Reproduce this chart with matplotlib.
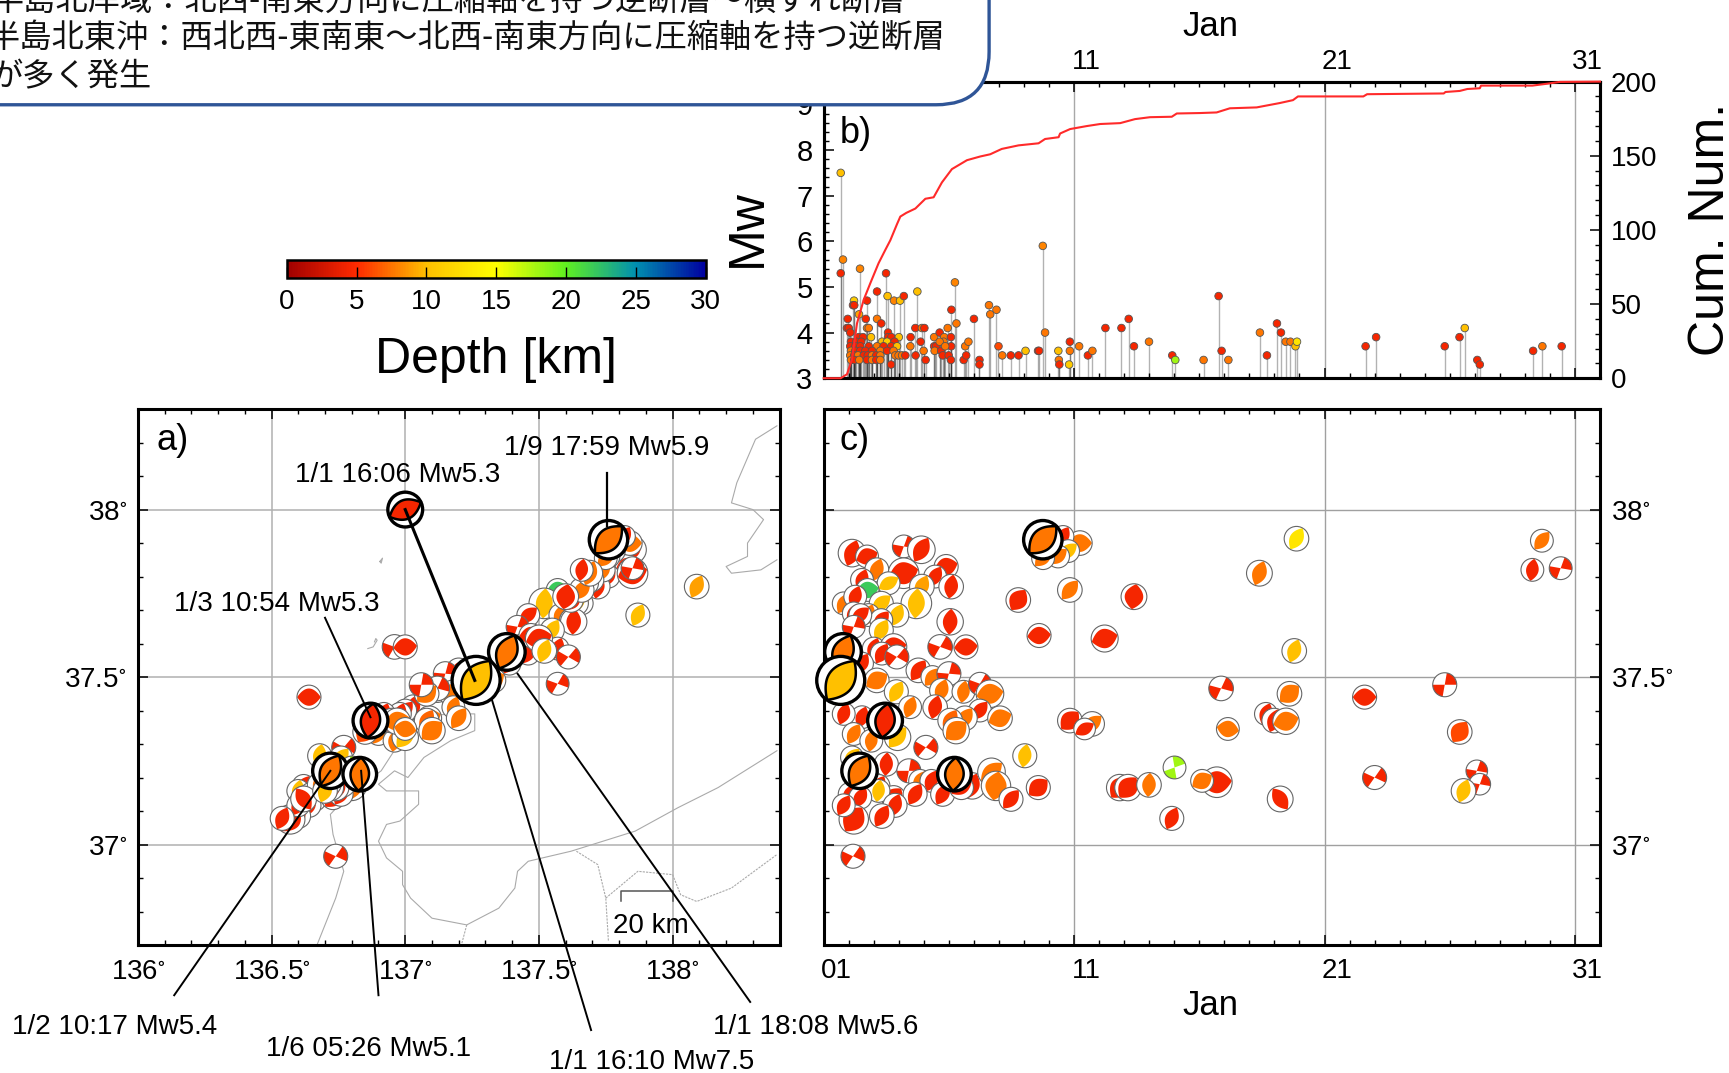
import numpy as np
import matplotlib
matplotlib.use('Agg')
import matplotlib.pyplot as plt
from matplotlib.cm import ScalarMappable
from matplotlib.colors import LinearSegmentedColormap, Normalize
from matplotlib.patches import Circle, Polygon, Wedge, FancyBboxPatch
from matplotlib.ticker import MultipleLocator
from matplotlib.transforms import IdentityTransform

plt.rcParams['font.family'] = ['Liberation Sans', 'Noto Sans CJK JP', 'DejaVu Sans']
plt.rcParams['mathtext.default'] = 'regular'

# panel b: time vs magnitude
b_day = [1.68, 1.77, 1.68, 2.45, 3.49, 3.13, 3.55, 3.81, 4.05, 4.20, 4.74, 6.24,
	2.21, 2.73, 2.17, 2.22, 2.41, 1.96, 2.68, 3.13, 3.30, 6.10, 6.30, 7.00, 7.60, 7.65, 7.90, 9.75, 9.84,
	7.98, 8.13, 8.47, 8.78, 9.06, 9.56, 9.60, 10.37, 10.39, 10.41, 10.80, 10.83, 10.83, 11.20, 11.55, 11.73,
	12.25, 12.89, 13.18, 13.39, 13.99, 14.92, 15.04, 16.17, 16.77, 16.89, 17.16,
	18.42, 18.70, 19.10, 19.26, 19.45, 19.64, 19.84, 19.90, 22.64, 23.06, 25.80, 26.39, 26.60, 27.10, 27.20,
	29.33, 29.70, 30.47,
	4.66, 4.92, 5.02, 4.47, 4.46, 4.67, 4.87, 4.99, 5.07, 5.41, 5.63, 5.95, 5.81, 6.08, 6.09, 5.41, 5.49,
	5.43, 5.79, 5.63, 5.69, 5.75, 5.99, 5.85, 6.08, 6.59, 6.69, 6.65, 6.78, 7.22, 7.22,
	1.93, 2.00, 2.73, 2.80, 2.06, 3.57, 2.40, 2.57, 2.89, 3.57, 3.70, 4.00,
	2.09, 2.30, 2.50, 3.33, 3.53, 3.83,
	2.06, 2.26, 2.46, 2.80, 3.13, 3.39, 3.70, 3.93,
	2.09, 2.26, 2.46, 2.66, 2.93, 3.26, 3.53, 3.79,
	2.06, 2.22, 2.37, 2.60, 2.76, 2.93, 3.10, 3.26, 3.86, 3.99, 4.13, 4.26,
	2.09, 2.22, 2.42, 2.73, 2.93, 3.10, 3.26, 3.69]
b_mw = [7.5, 5.6, 5.3, 5.4, 5.3, 4.9, 4.8, 4.7, 4.7, 4.8, 4.9, 5.1,
	4.7, 4.7, 4.6, 4.6, 4.4, 4.3, 4.3, 4.3, 4.2, 4.5, 4.2, 4.3, 4.6, 4.4, 4.5, 5.9, 4.0,
	3.7, 3.5, 3.5, 3.5, 3.6, 3.6, 3.6, 3.6, 3.4, 3.3, 3.3, 3.8, 3.6, 3.7, 3.5, 3.6,
	4.1, 4.1, 4.3, 3.7, 3.8, 3.5, 3.4, 3.4, 4.8, 3.6, 3.4,
	4.0, 3.5, 4.2, 4.0, 3.8, 3.8, 3.7, 3.8, 3.7, 3.9, 3.7, 3.9, 4.1, 3.4, 3.3,
	3.6, 3.7, 3.7,
	4.1, 4.1, 4.1, 3.9, 3.7, 3.5, 3.8, 3.6, 3.4, 3.9, 4.0, 4.1, 3.9, 3.9, 3.7, 3.7, 3.7,
	3.6, 3.8, 3.8, 3.6, 3.5, 3.5, 3.7, 3.4, 3.4, 3.5, 3.7, 3.8, 3.4, 3.3,
	4.1, 4.1, 4.1, 4.1, 4.0, 4.0, 3.9, 3.9, 3.9, 3.9, 3.9, 3.9,
	3.8, 3.8, 3.8, 3.8, 3.8, 3.8,
	3.7, 3.7, 3.7, 3.7, 3.7, 3.7, 3.7, 3.7,
	3.6, 3.6, 3.6, 3.6, 3.6, 3.6, 3.6, 3.6,
	3.5, 3.5, 3.5, 3.5, 3.5, 3.5, 3.5, 3.5, 3.5, 3.5, 3.5, 3.5,
	3.4, 3.4, 3.4, 3.4, 3.4, 3.4, 3.4, 3.3]
b_dep = [10, 8, 4.5, 8, 4.5, 4.5, 10, 8, 10, 4.5, 10, 8,
	11, 4.5, 4.5, 4.5, 9, 4.5, 4.5, 7.5, 4.5, 4.5, 7.5, 4.5, 7.5, 7.5, 7.5, 8, 7.5,
	6, 7.5, 4.5, 4.5, 10, 4.5, 4.5, 10, 7.5, 4.5, 11, 4.5, 7.5, 7.5, 4.5, 7.5,
	4.5, 4.5, 4.5, 4.5, 7.5, 4.5, 18, 7.5, 4.5, 4.5, 7.5,
	7.5, 4.5, 4.5, 4.5, 7.5, 7.5, 10, 13, 4.5, 4.5, 4.5, 4.5, 10, 4.5, 4.5,
	4.5, 7.5, 4.5,
	4.5, 7.5, 4.5, 4.5, 7.5, 4.5, 4.5, 7.5, 4.5, 7.5, 4.5, 7.5, 7.5, 4.5, 4.5, 4.5, 4.5,
	7.5, 7.5, 7.5, 4.5, 4.5, 4.5, 7.5, 4.5, 4.5, 4.5, 7.5, 7.5, 4.5, 4.5,
	4.5, 4.5, 7.5, 7.5, 4.5, 4.5, 4.5, 4.5, 10, 4.5, 4.5, 10,
	4.5, 4.5, 4.5, 10, 11, 4.5,
	4.5, 4.5, 4.5, 4.5, 7.5, 4.5, 4.5, 10,
	7.5, 4.5, 4.5, 4.5, 4.5, 7.5, 4.5, 7.5,
	7.5, 4.5, 7.5, 4.5, 4.5, 7.5, 4.5, 7.5, 7.5, 7.5, 7.5, 4.5,
	7.5, 4.5, 7.5, 4.5, 7.5, 4.5, 7.5, 4.5]

# cumulative number curve
cum_day = [1.0, 1.68, 1.93, 2.13, 2.33, 2.60, 2.86, 3.19, 3.46, 3.66, 3.93, 4.06, 4.30, 4.66, 5.06, 5.39, 5.72,
	6.12, 6.72, 7.25, 7.65, 8.11, 8.78, 9.58, 9.84, 10.38, 10.44, 10.84, 11.5, 12.04, 12.84, 13.43, 14.03,
	14.9, 15.1, 16.03, 16.69, 17.22, 18.29, 19.2, 19.74, 19.94, 22.55, 22.7, 25.76, 25.83, 26.4, 26.7, 27.2,
	27.25, 29.3, 29.9, 30.4, 32.0]
cum_num = [0, 0, 2.7, 12.7, 37, 53, 64, 77.5, 86.5, 93, 104, 109, 111.5, 114.4, 121, 122, 132,
	141, 147, 149.5, 151, 154.6, 157, 158.4, 161.3, 162.5, 165, 168, 170, 171.4, 172, 174.7, 176,
	176.3, 178.5, 178.8, 179.2, 182, 182.6, 185.5, 187.5, 190, 190, 191.5, 192, 193, 193.7, 195, 195.5,
	197.3, 197.3, 198.6, 199.8, 200]

# focal mechanisms in panels a and c
ball_day = [2.13, 2.73, 4.2, 4.9, 5.89, 5.45, 6.09, 3.12, 4.19, 2.53,
	3.59, 2.75, 1.8, 2.26, 3.3, 4.92, 4.7, 3.92, 2.2, 2.79,
	3.3, 2.46, 6.05, 5.65, 6.68, 2.2, 3.3, 3.0, 3.79, 3.32,
	2.53, 3.92, 3.12, 4.78, 5.34, 6.0, 3.9, 5.71, 6.58, 7.24,
	7.64, 4.45, 5.45, 7.24, 8.04, 6.64, 6.05, 6.29, 2.53, 1.8,
	2.2, 2.9, 3.95, 5.08, 2.13, 3.5, 4.4, 4.85, 5.3, 5.75,
	6.93, 6.5, 7.7, 7.88, 8.48, 9.03, 9.57, 3.19, 3.79, 4.65,
	3.19, 2.06, 2.46, 3.85, 3.32, 2.2, 1.8, 2.17, 8.77, 10.83,
	11.23, 10.56, 10.76, 10.36, 9.76, 13.39, 9.6, 12.22, 10.83, 11.72,
	11.42, 19.88, 18.4, 19.79, 16.87, 19.6, 18.66, 18.99, 19.46, 17.14,
	15.01, 16.7, 16.11, 12.82, 13.15, 13.99, 14.9, 19.23, 22.6, 25.8,
	26.4, 23.0, 27.08, 27.2, 26.55, 29.68, 29.3, 30.43]
ball_lon = [137.84, 137.78, 137.82, 137.85, 137.83, 137.76, 137.72, 137.74, 137.85, 137.7,
	137.68, 137.57, 137.66, 137.62, 137.64, 138.09, 137.52, 137.87, 137.6, 137.58,
	137.62, 137.46, 137.63, 136.96, 137.0, 137.42, 137.55, 137.57, 137.44, 137.46,
	137.39, 137.61, 137.33, 137.2, 137.17, 137.15, 137.25, 137.12, 137.08, 137.57,
	137.18, 137.18, 137.03, 137.0, 137.09, 137.2, 137.08, 137.1, 136.93, 136.98,
	136.9, 136.96, 137.0, 136.77, 136.76, 136.72, 136.7, 136.82, 136.79, 136.7,
	136.74, 136.78, 136.84, 136.8, 136.66, 136.68, 136.74, 136.62, 136.73, 136.76,
	136.6, 136.65, 136.62, 136.64, 136.6, 136.57, 136.6, 136.74, 137.62, 137.66,
	137.84, 137.82, 137.78, 137.76, 137.75, 137.6, 137.47, 137.5, 136.92, 136.86,
	136.85, 137.78, 137.69, 137.52, 137.12, 137.08, 136.92, 136.95, 136.97, 137.0,
	136.8, 136.76, 136.7, 136.74, 136.72, 136.68, 136.54, 136.62, 136.64, 137.06,
	136.85, 136.73, 136.73, 136.72, 136.7, 137.74, 137.66, 137.85]
ball_lat = [37.87, 37.86, 37.89, 37.88, 37.83, 37.80, 37.77, 37.82, 37.81, 37.79,
	37.78, 37.76, 37.72, 37.74, 37.72, 37.77, 37.72, 37.685, 37.69, 37.685,
	37.67, 37.685, 37.665, 37.59, 37.59, 37.65, 37.64, 37.585, 37.59, 37.57,
	37.54, 37.56, 37.49, 37.52, 37.5, 37.51, 37.456, 37.46, 37.456, 37.48,
	37.45, 37.41, 37.41, 37.40, 37.377, 37.377, 37.37, 37.34, 37.38, 37.39,
	37.33, 37.31, 37.32, 37.29, 37.26, 37.24, 37.22, 37.19, 37.19, 37.15,
	37.175, 37.17, 37.217, 37.175, 37.135, 37.265, 37.17, 37.175, 37.14, 37.15,
	37.16, 37.15, 37.14, 37.117, 37.085, 37.075, 37.117, 36.965, 37.73, 37.76,
	37.9, 37.92, 37.876, 37.86, 37.855, 37.74, 37.624, 37.615, 37.37, 37.36,
	37.345, 37.913, 37.81, 37.578, 37.466, 37.45, 37.39, 37.37, 37.368, 37.345,
	37.23, 37.186, 37.19, 37.17, 37.17, 37.178, 37.078, 37.136, 37.44, 37.477,
	37.336, 37.2, 37.22, 37.18, 37.16, 37.907, 37.82, 37.825]
ball_mw = [4.1, 3.3, 3.3, 4.1, 3.5, 3.3, 3.6, 3.5, 4.6, 3.3,
	3.3, 3.3, 3.3, 3.3, 3.5, 3.6, 4.6, 3.5, 3.3, 3.3,
	3.3, 3.3, 3.9, 3.6, 3.5, 3.3, 3.5, 3.3, 3.9, 3.3,
	3.3, 3.5, 3.6, 3.6, 3.3, 3.5, 3.5, 3.5, 3.3, 3.3,
	4.1, 3.3, 3.6, 3.3, 3.6, 3.6, 3.6, 3.9, 3.3, 3.3,
	3.3, 3.3, 3.9, 3.5, 3.3, 3.5, 3.5, 3.3, 3.3, 3.5,
	3.9, 3.5, 4.1, 4.4, 3.5, 3.5, 3.5, 3.3, 3.5, 3.5,
	3.3, 3.5, 3.3, 3.5, 3.6, 4.4, 3.3, 3.5, 3.6, 3.6,
	3.6, 3.1, 3.3, 3.3, 3.3, 3.8, 3.5, 4.0, 3.6, 3.6,
	3.1, 3.6, 3.8, 3.6, 3.6, 3.6, 3.3, 3.6, 3.9, 3.3,
	3.3, 4.6, 3.3, 3.9, 3.9, 3.6, 3.5, 3.8, 3.5, 3.5,
	3.6, 3.5, 3.1, 3.1, 3.6, 3.3, 3.3, 3.3]
ball_dep = [4.5, 4.5, 4.5, 4.5, 4.5, 4.5, 4.5, 7.5, 4.5, 4.5,
	10, 22, 7.5, 4.5, 10, 9, 10, 10, 4.5, 7.5,
	4.5, 4.5, 4.5, 4.5, 4.5, 4.5, 10, 4.5, 4.5, 4.5,
	4.5, 4.5, 7.5, 4.5, 7.5, 4.5, 10, 7.5, 7.5, 4.5,
	7.5, 7.5, 4.5, 4.5, 7.5, 7.5, 7, 7.5, 4.5, 4.5,
	7.5, 7.5, 10, 4.5, 10, 4.5, 4.5, 7.5, 4.5, 4.5,
	4.5, 4.5, 7.5, 7.5, 4.5, 10, 4.5, 4.5, 4.5, 4.5,
	10, 4.5, 4.5, 4.5, 4.5, 4.5, 4.5, 4.5, 4.5, 7.5,
	7.5, 4.5, 10, 7.5, 7.5, 4.5, 4.5, 4.5, 4.5, 7.5,
	4.5, 13, 7.5, 10, 4.5, 7.5, 4.5, 4.5, 7.5, 7.5,
	18, 4.5, 7.5, 4.5, 4.5, 7.5, 4.5, 4.5, 4.5, 4.5,
	6, 4.5, 4.5, 4.5, 10, 7.5, 4.5, 4.5]
ball_kind = list('rfsrfrrrfr'
	'rfrrrrrrrr'
	'rrrsfsrrfr'
	'rsfrrsrrrs'
	'frrrfrrfrr'
	'rrrsrrsrrr'
	'rrrfrrfrfr'
	'rrrrrfrsfr'
	'frrrrffffr'
	'rrrrsfrrff'
	'sffffrrrfs'
	'fsssrrrs')
ball_ang = [70, 20, 30, 60, 15, 60, 80, 70, 15, 70,
	30, 10, 60, 70, 40, 65, 85, 65, 60, 70,
	50, 40, 85, 20, 5, 30, 60, 70, 10, 60,
	60, 10, 30, 55, 50, 35, 60, 70, 80, 20,
	10, 70, 75, 50, 20, 55, 60, 40, 70, 70,
	60, 80, 50, 10, 50, 85, 40, 60, 65, 60,
	70, 30, 40, 80, 50, 80, 40, 60, 50, 60,
	80, 60, 60, 70, 60, 55, 60, 15, 55, 50,
	0, 60, 40, 40, 45, 80, 5, 15, 45, 40,
	30, 60, 70, 70, 25, 40, 70, 70, 15, 170,
	60, 5, 30, 50, 50, 85, 65, 125, 0, 40,
	55, 15, 30, 30, 70, 50, 80, 30]

# labelled events, black outline. 1/1 16:06 is only shown in panel a
hi_day = [2.43, 6.22, 3.45, 1.77, 1.68, 9.75, np.nan]
hi_lon = [136.72, 136.83, 136.87, 137.38, 137.265, 137.76, 137.0]
hi_lat = [37.22, 37.21, 37.37, 37.575, 37.49, 37.91, 38.0]
hi_mw = [5.4, 5.1, 5.3, 5.6, 7.5, 5.9, 5.3]
hi_dep = [7.5, 7.5, 4.5, 7.5, 10, 7.5, 4.5]
hi_ang = [60, 85, 80, 65, 55, 45, 25]

# coast and borders, panel a
coast_honshu_lon = [138.39, 138.17, 138.02, 137.86, 137.62, 137.46, 137.42, 137.41, 137.35, 137.23, 137.10, 137.02,
	136.99, 136.99, 136.93, 136.90, 136.93, 136.98, 137.05, 137.05, 136.93, 136.90, 136.96, 137.01, 137.07, 137.17,
	137.26, 137.26, 137.17, 137.04, 136.91, 136.79, 136.72, 136.73, 136.77, 136.74, 136.67]
coast_honshu_lat = [37.28, 37.17, 37.11, 37.04, 36.98, 36.95, 36.92, 36.87, 36.81, 36.76, 36.78, 36.84,
	36.88, 36.92, 36.96, 37.01, 37.06, 37.07, 37.12, 37.16, 37.16, 37.18, 37.22, 37.20, 37.26, 37.31,
	37.34, 37.39, 37.39, 37.38, 37.22, 37.15, 37.09, 37.03, 36.92, 36.84, 36.70]
coast_sado_lon = [138.39, 138.31, 138.24, 138.22, 138.30, 138.34, 138.28, 138.28, 138.20, 138.22, 138.33, 138.39]
coast_sado_lat = [38.25, 38.21, 38.08, 38.02, 38.00, 37.97, 37.90, 37.86, 37.83, 37.81, 37.82, 37.85]
isle_lon = [136.905, 136.915, 136.91, 136.905]
isle_lat = [37.845, 37.855, 37.84, 37.845]
isle2_lon = [136.86, 136.88, 136.895, 136.89, 136.885]
isle2_lat = [37.585, 37.59, 37.61, 37.615, 37.605]
border1_lon = [137.64, 137.72, 137.75, 137.76]
border1_lat = [36.98, 36.94, 36.84, 36.71]
border2_lon = [137.75, 137.87, 138.0, 138.03, 138.09, 138.22, 138.39]
border2_lat = [36.84, 36.92, 36.91, 36.85, 36.83, 36.87, 36.97]
border3_lon = [137.23, 137.21]
border3_lat = [36.76, 36.70]

# annotation lines, panel a
leader_lon = [[137.0, 137.26], [137.753, 137.753], [136.70, 136.87], [136.136, 136.72], [136.9, 136.835], [137.695, 137.325], [138.29, 137.42]]
leader_lat = [[38.0, 37.49], [38.11, 37.95], [37.677, 37.38], [36.55, 37.22], [36.55, 37.22], [36.446, 37.43], [36.53, 37.51]]
leader_lw = [2.2, 1.6, 1.4, 1.4, 1.4, 1.4, 1.4]

depth_pos = [0, 5, 10, 15, 20, 25, 30]
depth_col = ['#a00000', '#ff2a00', '#ffc000', '#ffff00', '#60f020', '#0090b0', '#0000a0']
day_ticks = [1, 11, 21, 31]
lon_ticks = [136, 136.5, 137, 137.5, 138]
lon_labels = ['136$^{\\circ}$', '136.5$^{\\circ}$', '137$^{\\circ}$', '137.5$^{\\circ}$', '138$^{\\circ}$']
lat_ticks = [37, 37.5, 38]
lat_labels = ['37$^{\\circ}$', '37.5$^{\\circ}$', '38$^{\\circ}$']

box_lines = ['半島北岸域：北西-南東方向に圧縮軸を持つ逆断層～横ずれ断層',
	'半島北東沖：西北西-東南東～北西-南東方向に圧縮軸を持つ逆断層',
	'が多く発生']

W, H = 1729, 1073
S = W / 1568.0

cmap = LinearSegmentedColormap.from_list('depth', [(p / 30.0, c) for p, c in zip(depth_pos, depth_col)])
norm = Normalize(0, 30)

fig = plt.figure(figsize=(W / 100.0, H / 100.0), dpi=100)

def axes_px(x0, y0, x1, y1):
	# coordinates as read on the shrunk reference
	return fig.add_axes([x0 * S / W, 1 - y1 * S / H, (x1 - x0) * S / W, (y1 - y0) * S / H])

def frame(ax, lw=2.2):
	for s in ax.spines.values():
		s.set_linewidth(lw)
	ax.tick_params(which='major', direction='in', length=7, width=1.1, top=True, right=True, labelsize=20)
	ax.tick_params(which='minor', direction='in', length=3.5, width=1.0, top=True, right=True)

def lens(cx, cy, r, ang, wid):
	# pointed lens through the centre of the ball
	t = np.linspace(-1, 1, 31)
	u = np.r_[t, t[::-1]] * r * 0.99
	v = np.r_[(1 - t ** 2), -(1 - t[::-1] ** 2)] * r * wid
	a = np.radians(ang)
	return np.c_[cx + u * np.cos(a) - v * np.sin(a), cy + u * np.sin(a) + v * np.cos(a)]

def ball(ax, x, y, mw, dep, kind, ang, hi=False, order=0):
	if np.isnan(x):
		return
	cx, cy = ax.transData.transform((x, y))
	r = 12 + 3.0 * (mw - 3.5)
	col = cmap(norm(dep))
	tr = IdentityTransform()
	z = 5 + order * 0.01
	edge = 'k' if hi else '#666666'
	lw = 2.4 if hi else 0.8
	ax.add_patch(Circle((cx, cy), r, fc='white', ec='none', transform=tr, zorder=z, clip_on=False))
	if kind == 's':
		for a in (ang, ang + 180):
			ax.add_patch(Wedge((cx, cy), r, a - 40, a + 40, fc=col, ec='none', transform=tr, zorder=z, clip_on=False))
	else:
		wid = 0.72 if kind == 'f' else 0.55
		ax.add_patch(Polygon(lens(cx, cy, r, ang, wid), fc=col, ec='k' if hi else 'none',
			lw=1.8 if hi else 0, transform=tr, zorder=z, clip_on=False))
	ax.add_patch(Circle((cx, cy), r, fc='none', ec=edge, lw=lw, transform=tr, zorder=z, clip_on=False))

# panel a
ax_a = axes_px(125, 371, 707, 857)
ax_a.set_xlim(136, 138.4)
ax_a.set_ylim(36.7, 38.3)
frame(ax_a)
ax_a.set_xticks(lon_ticks)
ax_a.set_xticklabels(lon_labels)
ax_a.set_yticks(lat_ticks)
ax_a.set_yticklabels(lat_labels)
ax_a.xaxis.set_minor_locator(MultipleLocator(0.1))
ax_a.yaxis.set_minor_locator(MultipleLocator(0.1))
ax_a.tick_params(axis='x', pad=10)
ax_a.tick_params(axis='y', pad=8)
ax_a.grid(True, which='major', color='#b0b0b0', lw=1.1)
ax_a.set_axisbelow(True)
for lon, lat in [(coast_honshu_lon, coast_honshu_lat), (coast_sado_lon, coast_sado_lat), (isle_lon, isle_lat), (isle2_lon, isle2_lat)]:
	ax_a.plot(lon, lat, color='#aaaaaa', lw=0.8, zorder=2)
for lon, lat in [(border1_lon, border1_lat), (border2_lon, border2_lat), (border3_lon, border3_lat)]:
	ax_a.plot(lon, lat, color='#aaaaaa', lw=0.8, ls=(0, (2, 1)), zorder=2)
ax_a.plot([137.807, 137.807, 138.0, 138.0], [36.83, 36.862, 36.862, 36.83], color='#555555', lw=1.1, zorder=3)

# panel c
ax_c = axes_px(747, 371, 1451, 857)
ax_c.set_xlim(1, 32)
ax_c.set_ylim(36.7, 38.3)
frame(ax_c)
ax_c.set_xticks(day_ticks)
ax_c.set_xticklabels([])
ax_c.set_yticks(lat_ticks)
ax_c.yaxis.set_minor_locator(MultipleLocator(0.1))
ax_c.xaxis.set_minor_locator(MultipleLocator(1))
ax_c.yaxis.tick_right()
ax_c.tick_params(axis='y', which='both', left=True, right=True, labelright=True, labelleft=False, pad=8)
ax_c.set_yticklabels(lat_labels)
ax_c.grid(True, which='major', color='#a0a0a0', lw=1.0)
ax_c.set_axisbelow(True)
for d in day_ticks:
	ax_c.text(d + 0.5, -0.048, '%02d' % d, transform=ax_c.get_xaxis_transform(), ha='center', va='center', fontsize=20)

for i in range(len(ball_day)):
	ball(ax_a, ball_lon[i], ball_lat[i], ball_mw[i], ball_dep[i], ball_kind[i], ball_ang[i], order=i)
	ball(ax_c, ball_day[i], ball_lat[i], ball_mw[i], ball_dep[i], ball_kind[i], ball_ang[i], order=i)
n = len(ball_day)
for i in range(len(hi_day)):
	ball(ax_a, hi_lon[i], hi_lat[i], hi_mw[i], hi_dep[i], 'r', hi_ang[i], hi=True, order=n + i)
	ball(ax_c, hi_day[i], hi_lat[i], hi_mw[i], hi_dep[i], 'r', hi_ang[i], hi=True, order=n + i)
for lo, la, lw in zip(leader_lon, leader_lat, leader_lw):
	ax_a.plot(lo, la, color='k', lw=lw, clip_on=False, zorder=8)

# panel b
ax_b = axes_px(747, 74, 1451, 343)
ax_b.set_xlim(1, 32)
ax_b.set_ylim(3, 9.5)
frame(ax_b)
ax_b.set_xticks(day_ticks)
ax_b.set_xticklabels([])
ax_b.xaxis.set_minor_locator(MultipleLocator(1))
ax_b.yaxis.set_major_locator(MultipleLocator(1))
ax_b.yaxis.set_minor_locator(MultipleLocator(0.2))
ax_b.tick_params(axis='y', which='both', right=False, pad=8)
ax_b.tick_params(axis='y', labelsize=21)
ax_b.grid(True, axis='x', which='major', color='#a8a8a8', lw=1.0)
ax_b.set_axisbelow(True)
ax_b.vlines(b_day, 3, b_mw, color='k', alpha=0.3, lw=1.0, zorder=2)
ax_b.scatter(b_day, b_mw, c=b_dep, cmap=cmap, norm=norm, s=30, edgecolors='#555555', linewidths=0.6, zorder=4)
for d in day_ticks:
	ax_b.text(d + 0.5, 1.067, '%02d' % d, transform=ax_b.get_xaxis_transform(), ha='center', va='center', fontsize=20)

ax_n = ax_b.twinx()
ax_n.set_ylim(0, 200)
frame(ax_n)
ax_n.yaxis.set_major_locator(MultipleLocator(50))
ax_n.yaxis.set_minor_locator(MultipleLocator(10))
ax_n.tick_params(axis='y', which='both', left=False, right=True, labelright=True, pad=8)
ax_n.tick_params(axis='x', which='both', top=False, bottom=False)
ax_n.plot(cum_day, cum_num, color='#ff2a2a', lw=1.5, zorder=3, clip_on=False)

# depth scale
cax = axes_px(260, 236, 640, 252)
cb = fig.colorbar(ScalarMappable(norm=norm, cmap=cmap), cax=cax, orientation='horizontal')
cb.set_ticks(depth_pos)
cb.ax.tick_params(direction='in', length=8, width=1.0, labelsize=20, pad=8)
cb.outline.set_linewidth(1.8)

# everything placed on the page: box, labels
ov = fig.add_axes([0, 0, 1, 1], zorder=20)
ov.set_xlim(0, 1568)
ov.set_ylim(973, 0)
ov.axis('off')
ov.patch.set_alpha(0)

ov.add_patch(FancyBboxPatch((-60, -60), 957, 155, boxstyle='round,pad=0,rounding_size=48', fc='white', ec='#2f5597', lw=2.4, mutation_aspect=1))
jp = ['Noto Sans CJK JP', 'DejaVu Sans']
ov.text(-8, 1, box_lines[0], family=jp, fontsize=23.2, ha='left', va='center', color='#111111')
ov.text(857, 34, box_lines[1], family=jp, fontsize=23.2, ha='right', va='center', color='#111111')
ov.text(-8, 70, box_lines[2], family=jp, fontsize=23.2, ha='left', va='center', color='#111111')

events = [(361, 431, '1/1 16:06 Mw5.3'), (550, 406, '1/9 17:59 Mw5.9'), (251, 548, '1/3 10:54 Mw5.3'),
	(104, 931, '1/2 10:17 Mw5.4'), (334, 951, '1/6 05:26 Mw5.1'), (591, 963, '1/1 16:10 Mw7.5'), (740, 931, '1/1 18:08 Mw5.6')]
for x, y, s in events:
	ov.text(x, y, s, fontsize=20, ha='center', va='center')
ov.text(590, 840, '20 km', fontsize=20, ha='center', va='center')
ov.text(157, 399, 'a)', fontsize=26, ha='center', va='center')
ov.text(776, 121, 'b)', fontsize=26, ha='center', va='center')
ov.text(775, 399, 'c)', fontsize=26, ha='center', va='center')
ov.text(1098, 24, 'Jan', fontsize=25, ha='center', va='center')
ov.text(1098, 912, 'Jan', fontsize=25, ha='center', va='center')
ov.text(450, 326, 'Depth [km]', fontsize=36, ha='center', va='center')
ov.text(678, 207, 'Mw', fontsize=36, rotation=90, ha='center', va='center')
ov.text(1552, 208, 'Cum. Num.', fontsize=36, rotation=90, ha='center', va='center')

fig.savefig('out.png', dpi=100)
